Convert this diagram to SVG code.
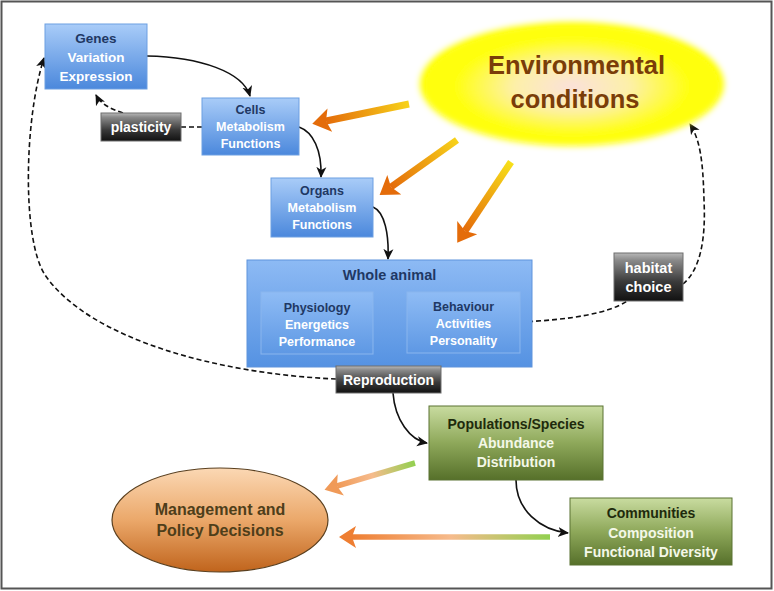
<svg xmlns="http://www.w3.org/2000/svg" width="774" height="591" viewBox="0 0 774 591">
<defs>
<style>
text{font-family:"Liberation Sans",Arial,sans-serif;font-weight:bold;text-anchor:middle}
.bb{fill:url(#gBlue);stroke:#6c9fe2;stroke-width:1}
.ib{fill:url(#gInner);stroke:#8ab6ee;stroke-width:1}
.gb{fill:url(#gGreen);stroke:#5a7332;stroke-width:1}
.db{fill:url(#gDark);stroke:#6e6e6e;stroke-width:1}
.tt{fill:#1f3864}
.tw{fill:#ffffff}
.tg{fill:#1e2a0c}
.tgw{fill:#f4f8e8}
.c{fill:none;stroke:#111;stroke-width:1.6}
.d{fill:none;stroke:#111;stroke-width:1.6;stroke-dasharray:5 3}
</style>
<linearGradient id="gBlue" x1="0" y1="0" x2="0" y2="1"><stop offset="0" stop-color="#a9ccf8"/><stop offset="1" stop-color="#4b88dc"/></linearGradient>
<linearGradient id="gWhole" x1="0" y1="0" x2="0" y2="1"><stop offset="0" stop-color="#8dbaf4"/><stop offset="1" stop-color="#5592e2"/></linearGradient>
<linearGradient id="gInner" x1="0" y1="0" x2="0" y2="1"><stop offset="0" stop-color="#8fbcf5"/><stop offset="1" stop-color="#5e98e4"/></linearGradient>
<linearGradient id="gGreen" x1="0" y1="0" x2="0" y2="1"><stop offset="0" stop-color="#c9dca0"/><stop offset="0.5" stop-color="#8ea85a"/><stop offset="1" stop-color="#56702a"/></linearGradient>
<linearGradient id="gDark" x1="0" y1="0" x2="0" y2="1"><stop offset="0" stop-color="#b8b8b8"/><stop offset="0.15" stop-color="#8a8a8a"/><stop offset="0.6" stop-color="#3a3a3a"/><stop offset="1" stop-color="#111"/></linearGradient>
<linearGradient id="gMgmt" x1="0" y1="0" x2="0" y2="1"><stop offset="0" stop-color="#fbd8b4"/><stop offset="0.5" stop-color="#eba86a"/><stop offset="1" stop-color="#c0641c"/></linearGradient>
<radialGradient id="gEnv" cx="0.5" cy="0.52" r="0.55"><stop offset="0" stop-color="#fbe0dc"/><stop offset="0.35" stop-color="#fdf0a8"/><stop offset="0.7" stop-color="#ffff10"/><stop offset="1" stop-color="#ffff00"/></radialGradient>
<filter id="blur" x="-10%" y="-20%" width="120%" height="140%"><feGaussianBlur stdDeviation="3"/></filter>
<linearGradient id="a1" gradientUnits="userSpaceOnUse" x1="409" y1="104" x2="326" y2="121"><stop offset="0" stop-color="#f7d21a"/><stop offset="1" stop-color="#e46c0a"/></linearGradient>
<linearGradient id="a2" gradientUnits="userSpaceOnUse" x1="457" y1="140" x2="391" y2="187"><stop offset="0" stop-color="#f7d21a"/><stop offset="1" stop-color="#e46c0a"/></linearGradient>
<linearGradient id="a3" gradientUnits="userSpaceOnUse" x1="511" y1="162" x2="465" y2="231"><stop offset="0" stop-color="#f7e01a"/><stop offset="1" stop-color="#e46c0a"/></linearGradient>
<linearGradient id="aA" gradientUnits="userSpaceOnUse" x1="415" y1="463" x2="337" y2="486"><stop offset="0" stop-color="#92d050"/><stop offset="0.55" stop-color="#f6bb8c"/><stop offset="1" stop-color="#f09a58"/></linearGradient>
<linearGradient id="aB" gradientUnits="userSpaceOnUse" x1="550" y1="537" x2="352" y2="537"><stop offset="0" stop-color="#92d050"/><stop offset="0.5" stop-color="#f6bb8c"/><stop offset="1" stop-color="#ee7e32"/></linearGradient>
<marker id="hOr" markerUnits="userSpaceOnUse" markerWidth="20" markerHeight="26" viewBox="0 0 20 26" refX="4" refY="13" orient="auto"><path d="M0,1 L18,13 L0,25 L4,13 Z" fill="#e46c0a"/></marker>
<marker id="hA" markerUnits="userSpaceOnUse" markerWidth="20" markerHeight="24" viewBox="0 0 20 24" refX="4" refY="12" orient="auto"><path d="M0,1 L17,12 L0,23 L4,12 Z" fill="#f09a58"/></marker>
<marker id="hB" markerUnits="userSpaceOnUse" markerWidth="20" markerHeight="24" viewBox="0 0 20 24" refX="4" refY="12" orient="auto"><path d="M0,1 L17,12 L0,23 L4,12 Z" fill="#ee7e32"/></marker>
<marker id="hk" markerUnits="userSpaceOnUse" markerWidth="12" markerHeight="12" viewBox="0 0 12 12" refX="10" refY="6" orient="auto"><path d="M0,1 L11,6 L0,11 L3,6 Z" fill="#111"/></marker>
<marker id="hks" markerUnits="userSpaceOnUse" markerWidth="12" markerHeight="12" viewBox="0 0 12 12" refX="10" refY="6" orient="auto-start-reverse"><path d="M0,1 L11,6 L0,11 L3,6 Z" fill="#111"/></marker>
</defs>
<rect x="0" y="0" width="774" height="591" fill="#fff"/>
<rect x="1.5" y="1.5" width="770" height="587" fill="none" stroke="#555" stroke-width="2"/>

<g id="connectors">
<path class="c" d="M147,56 C200,57 243,72 250,96" marker-end="url(#hk)"/>
<path class="c" d="M299,127 C313,132 322,150 321,177" marker-end="url(#hk)"/>
<path class="c" d="M373,207 C385,212 389,235 388,259" marker-end="url(#hk)"/>
<path class="c" d="M375,328 L405,328" marker-start="url(#hks)" marker-end="url(#hks)"/>
<path class="c" d="M393,393 C395,420 410,440 427,443" marker-end="url(#hk)"/>
<path class="c" d="M516,480 C516,510 540,530 568,533" marker-end="url(#hk)"/>
<path class="d" d="M181,127 L202,127"/>
<path class="d" d="M123,113 C110,109 100,103 96,95" marker-end="url(#hk)"/>
<path class="d" d="M336,379 C220,374 90,340 45,275 C22,240 24,120 44,58" marker-end="url(#hk)"/>
<path class="d" d="M520,322 C570,320 610,313 627,301"/>
<path class="d" d="M683,284 C700,270 706,240 704,200 C703,160 700,140 690,124" marker-end="url(#hk)"/>
<path fill="none" stroke="url(#a1)" stroke-width="7" d="M409,104 L326,121" marker-end="url(#hOr)"/>
<path fill="none" stroke="url(#a2)" stroke-width="7" d="M457,140 L391,187" marker-end="url(#hOr)"/>
<path fill="none" stroke="url(#a3)" stroke-width="7" d="M511,162 L465,231" marker-end="url(#hOr)"/>
<path fill="none" stroke="url(#aA)" stroke-width="5.5" d="M415,463 L337,486" marker-end="url(#hA)"/>
<path fill="none" stroke="url(#aB)" stroke-width="5.5" d="M550,537 L352,537" marker-end="url(#hB)"/>
</g>

<g id="env">
<ellipse cx="572" cy="84" rx="152" ry="62" fill="url(#gEnv)" filter="url(#blur)"/>
<text x="576.5" y="74" font-size="25.5" fill="#7a3d08">Environmental</text>
<text x="575" y="108" font-size="25.5" fill="#7a3d08">conditions</text>
</g>

<g id="genes">
<rect class="bb" x="45" y="24" width="102" height="65"/>
<text class="tt" x="96" y="43" font-size="13.5">Genes</text>
<text class="tw" x="96" y="62" font-size="13.5">Variation</text>
<text class="tw" x="96" y="81" font-size="13.5">Expression</text>
</g>

<g id="cells">
<rect class="bb" x="202" y="98" width="97" height="57"/>
<text class="tt" x="250.5" y="114" font-size="12.5">Cells</text>
<text class="tw" x="250.5" y="131" font-size="12.5">Metabolism</text>
<text class="tw" x="250.5" y="148" font-size="12.5">Functions</text>
</g>

<g id="plasticity">
<rect class="db" x="101" y="113" width="80" height="28"/>
<text class="tw" x="141" y="132" font-size="14">plasticity</text>
</g>

<g id="organs">
<rect class="bb" x="271" y="178" width="102" height="59"/>
<text class="tt" x="322" y="195" font-size="12.5">Organs</text>
<text class="tw" x="322" y="212" font-size="12.5">Metabolism</text>
<text class="tw" x="322" y="229" font-size="12.5">Functions</text>
</g>

<g id="whole-animal">
<rect x="247" y="260" width="285" height="107" fill="url(#gWhole)" stroke="#5e93dc" stroke-width="1"/>
<text class="tt" x="389.5" y="280" font-size="14.5">Whole animal</text>
</g>

<g id="physiology">
<rect class="ib" x="261" y="292" width="112" height="62"/>
<text class="tt" x="317" y="312" font-size="12.5">Physiology</text>
<text class="tw" x="317" y="329" font-size="12.5">Energetics</text>
<text class="tw" x="317" y="346" font-size="12.5">Performance</text>
</g>

<g id="behaviour">
<rect class="ib" x="407" y="292" width="113" height="61"/>
<text class="tt" x="463.5" y="311" font-size="12.5">Behaviour</text>
<text class="tw" x="463.5" y="328" font-size="12.5">Activities</text>
<text class="tw" x="463.5" y="345" font-size="12.5">Personality</text>
</g>

<g id="reproduction">
<rect class="db" x="336" y="366" width="105" height="27"/>
<text class="tw" x="388.5" y="385" font-size="14">Reproduction</text>
</g>

<g id="habitat-choice">
<rect class="db" x="614" y="253" width="69" height="48"/>
<text class="tw" x="648.5" y="273" font-size="14.5">habitat</text>
<text class="tw" x="648.5" y="292" font-size="14.5">choice</text>
</g>

<g id="populations">
<rect class="gb" x="429" y="406" width="174" height="74"/>
<text class="tg" x="516" y="429" font-size="14">Populations/Species</text>
<text class="tgw" x="516" y="448" font-size="14">Abundance</text>
<text class="tgw" x="516" y="467" font-size="14">Distribution</text>
</g>

<g id="communities">
<rect class="gb" x="570" y="498" width="162" height="67"/>
<text class="tg" x="651" y="518" font-size="14">Communities</text>
<text class="tgw" x="651" y="538" font-size="14">Composition</text>
<text class="tgw" x="651" y="557" font-size="14">Functional Diversity</text>
</g>

<g id="management">
<ellipse cx="220" cy="520" rx="108" ry="52" fill="url(#gMgmt)" stroke="#5a4020" stroke-width="1.2"/>
<text x="220" y="515" font-size="16" fill="#4e3e1a">Management and</text>
<text x="220" y="536" font-size="16" fill="#4e3e1a">Policy Decisions</text>
</g>
</svg>
